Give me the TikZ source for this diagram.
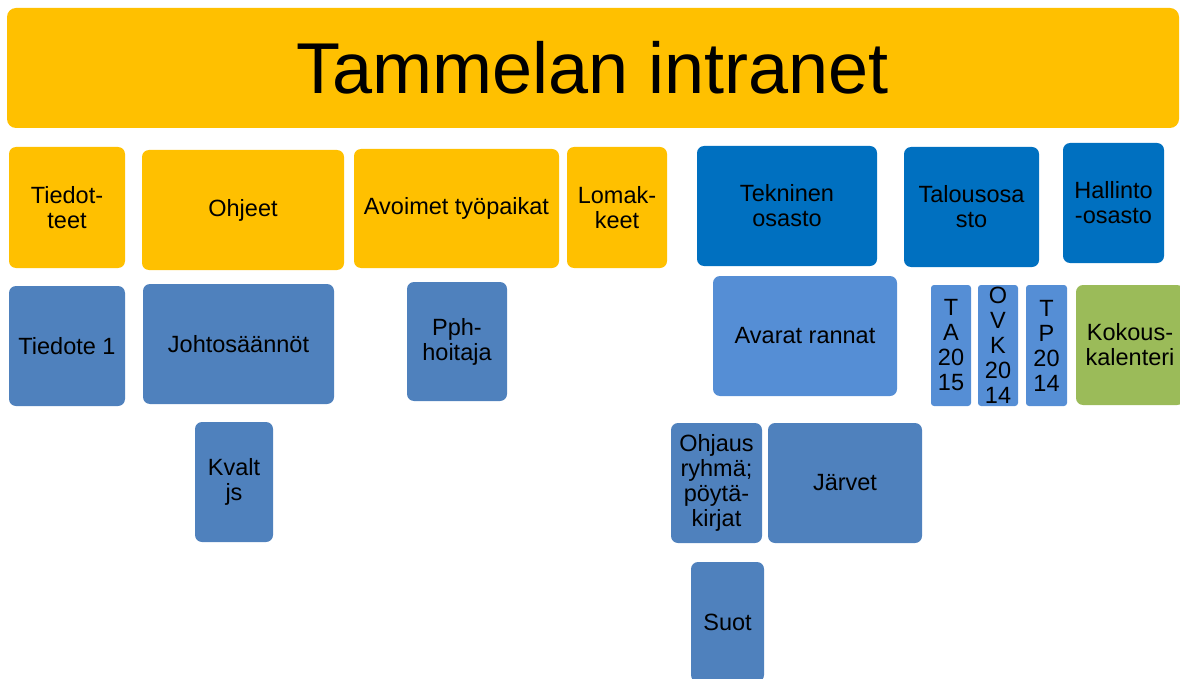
\documentclass[tikz,border=0pt]{standalone}
\usepackage{fontspec}
\setmainfont{Liberation Sans}
\definecolor{keltainen}{HTML}{FFC000}
\definecolor{tummasin}{HTML}{0070C0}
\definecolor{sininen}{HTML}{4F81BD}
\definecolor{vaaleasin}{HTML}{558ED5}
\definecolor{vihrea}{HTML}{9BBB59}
\tikzset{
	laatikko/.style={rounded corners=7pt, inner sep=0pt, align=center, text=black, font=\fontsize{23.5}{25}\selectfont},
	koko/.style 2 args={minimum width=#1pt, minimum height=#2pt},
	ylin/.style={laatikko, fill=keltainen},
	osasto/.style={laatikko, fill=tummasin},
	ala/.style={laatikko, fill=sininen},
	vaalea/.style={laatikko, fill=vaaleasin},
	kalenteri/.style={laatikko, fill=vihrea}
}

\begin{document}
\begin{tikzpicture}[x=1pt,y=-1pt]
		\useasboundingbox (0,0) rectangle (1180,679);
		\node[ylin, koko={1172}{120}, rounded corners=9pt, font=\fontsize{72}{80}\selectfont] (intranet) at (593,68) {Tammelan intranet};
		\node[ylin, koko={116}{121}] (tiedotteet) at (67,207.5) {Tiedot-\\teet};
		\node[ylin, koko={202}{120}] (ohjeet) at (243,210) {Ohjeet};
		\node[ylin, koko={205}{119}] (tyopaikat) at (456.5,208.5) {Avoimet työpaikat};
		\node[ylin, koko={100}{121}] (lomakkeet) at (617,207.5) {Lomak-\\keet};
		\node[osasto, koko={180}{120}] (tekninen) at (787,206) {Tekninen\\osasto};
		\node[osasto, koko={135}{120}] (talous) at (971.5,207) {Talousosa\\sto};
		\node[osasto, koko={101}{120}] (hallinto) at (1113.5,203) {Hallinto\\-osasto};
		\node[ala, koko={116}{120}] (tiedote) at (67,346) {Tiedote 1};
		\node[ala, koko={191}{120}] (johto) at (238.5,344) {Johtosäännöt};
		\node[ala, koko={100}{119}] (pph) at (457,341.5) {Pph-\\hoitaja};
		\node[vaalea, koko={184}{120}] (rannat) at (805,336) {Avarat rannat};
		\node[vaalea, koko={40}{121}, rounded corners=3pt] (ta) at (951,345.5) {T\\A\\20\\15};
		\node[vaalea, koko={40}{121}, rounded corners=3pt] (ovk) at (998,345.5) {O\\V\\K\\20\\14};
		\node[vaalea, koko={41}{121}, rounded corners=3pt] (tp) at (1046.5,345.5) {T\\P\\20\\14};
		\node[kalenteri, koko={108}{120}] (kokous) at (1130,345) {Kokous-\\kalenteri};
		\node[ala, koko={78}{120}] (kvalt) at (234,482) {Kvalt\\js};
		\node[ala, koko={91}{120}] (ohjaus) at (716.5,483) {Ohjaus\\ryhmä;\\pöytä-\\kirjat};
		\node[ala, koko={154}{120}] (jarvet) at (845,483) {Järvet};
		\node[ala, koko={73}{120}] (suot) at (727.5,622) {Suot};
	\end{tikzpicture}
\end{document}
